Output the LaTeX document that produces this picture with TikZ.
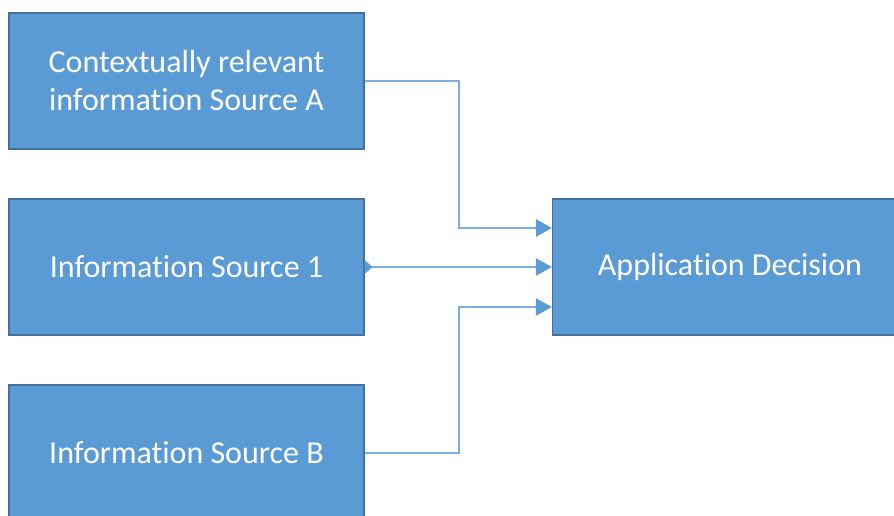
\documentclass[tikz,border=0pt]{standalone}
\usepackage{fontspec}
\setmainfont{Carlito}[Ligatures={NoCommon}]
\usetikzlibrary{arrows.meta,calc}
\definecolor{boxfill}{HTML}{5B9BD5}
\definecolor{boxline}{HTML}{41719C}
\definecolor{linkcol}{HTML}{7AAEDF}
\tikzset{
  srcbox/.style={draw=boxline, line width=1.2pt, fill=boxfill, text=white, align=center,
    minimum width=266pt, minimum height=102pt, font=\fontsize{24}{28.5}\selectfont},
  link/.style={draw=linkcol, line width=1.3pt, -{Triangle[length=12pt,width=13pt,color=boxfill]}}
}
\begin{document}
\begin{tikzpicture}[x=0.75pt,y=0.75pt]
        \useasboundingbox (0,0) rectangle (894,515);
        \clip (0,0) rectangle (894,515);
        \node[srcbox] (srcA) at (186.5,434) {Contextually relevant\\information Source A};
        \node[srcbox] (src1) at (186.5,248) {Information Source 1};
        \node[srcbox] (srcB) at (186.5,62) {Information Source B};
        \node[srcbox] (dec) at (730,248) {Application Decision};
        \draw[link] (srcA.east) -- ++(94,0) |- ($(dec.west)+(0,39)$);
        \draw[link, {Triangle[length=6pt,width=10pt,reversed,color=boxfill]}-{Triangle[length=12pt,width=13pt,color=boxfill]}] (src1.east) -- (dec.west);
        \draw[link] (srcB.east) -- ++(94,0) |- ($(dec.west)+(0,-40)$);
\end{tikzpicture}
\end{document}
